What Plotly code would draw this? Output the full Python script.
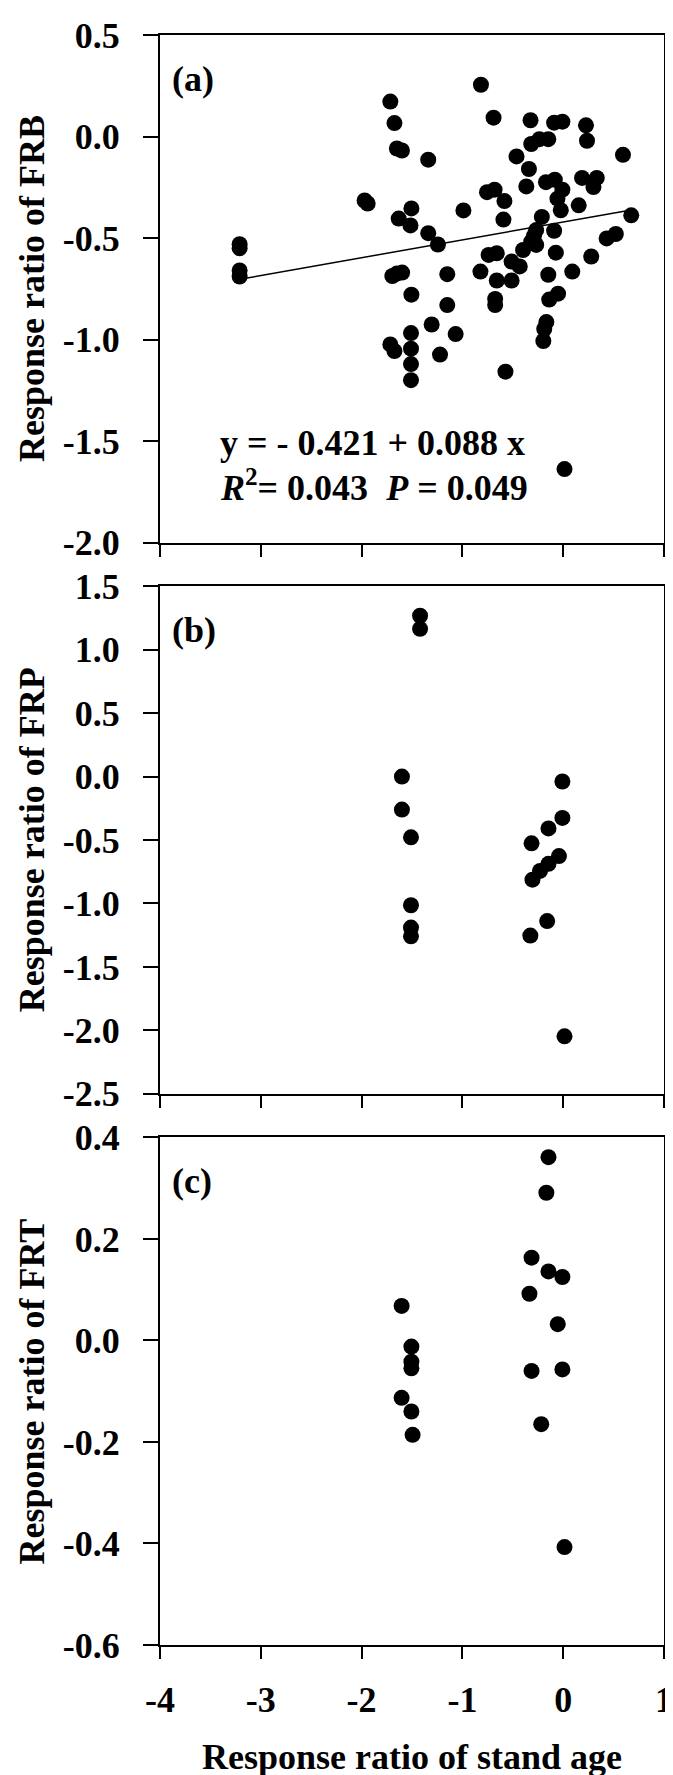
import plotly.graph_objects as go

# ---------------- data ----------------
frb_x = [-3.21, -3.21, -3.21, -3.21, -1.97, -1.94, -1.715, -1.674, -1.65, -1.60,
         -1.339, -1.506, -1.632, -1.515, -1.339, -1.243, -1.695, -1.65, -1.598, -1.15,
         -1.506, -1.15, -1.305, -1.067, -1.715, -1.674, -1.51, -1.51, -1.51, -1.51,
         -1.222, 0.013, -0.573, -0.816, -0.99, -0.691, -0.324, -0.090, -0.008, 0.226,
         0.236, 0.593, -0.317, -0.236, -0.148, -0.463, -0.340, -0.366, -0.171, -0.083,
         -0.008, -0.057, -0.024, 0.187, 0.333, 0.300, 0.154, 0.675, -0.756, -0.681,
         -0.583, -0.593, -0.212, -0.268, -0.29, -0.317, -0.268, -0.398, -0.512, -0.431,
         -0.090, -0.073, 0.431, 0.522, 0.278, 0.090, -0.148, -0.740, -0.659, -0.821,
         -0.659, -0.512, -0.675, -0.675, -0.139, -0.051, -0.167, -0.188, -0.197]
frb_y = [-0.53, -0.55, -0.66, -0.69, -0.315, -0.33, 0.172, 0.066, -0.059, -0.069,
         -0.114, -0.354, -0.404, -0.438, -0.476, -0.532, -0.687, -0.675, -0.670, -0.678,
         -0.779, -0.830, -0.926, -0.973, -1.024, -1.057, -0.968, -1.045, -1.121, -1.200,
         -1.074, -1.638, -1.158, 0.255, -0.364, 0.093, 0.080, 0.068, 0.073, 0.055,
         -0.021, -0.090, -0.037, -0.013, -0.013, -0.098, -0.160, -0.246, -0.225, -0.213,
         -0.262, -0.306, -0.363, -0.204, -0.204, -0.249, -0.339, -0.388, -0.274, -0.262,
         -0.318, -0.409, -0.396, -0.461, -0.49, -0.518, -0.534, -0.559, -0.616, -0.640,
         -0.464, -0.572, -0.502, -0.480, -0.591, -0.665, -0.681, -0.583, -0.575, -0.665,
         -0.709, -0.709, -0.800, -0.830, -0.803, -0.774, -0.914, -0.948, -1.007]

frp_x = [-1.42, -1.42, -1.60, -1.60, -1.51, -1.51, -1.51, -1.51,
         -0.008, -0.008, -0.146, -0.314, -0.042, -0.146, -0.23, -0.305, -0.159, -0.326, 0.013]
frp_y = [1.267, 1.164, 0.0, -0.26, -0.479, -1.014, -1.19, -1.259,
         -0.039, -0.326, -0.409, -0.526, -0.627, -0.688, -0.744, -0.813, -1.139, -1.253, -2.047]

frt_x = [-0.146, -0.167, -0.314, -0.146, -0.008, -0.335, -0.054, -0.314, -0.008, -0.218, 0.013,
         -1.603, -1.506, -1.506, -1.506, -1.603, -1.506, -1.494]
frt_y = [0.361, 0.291, 0.163, 0.136, 0.125, 0.092, 0.032, -0.060, -0.057, -0.165, -0.407,
         0.068, -0.012, -0.042, -0.055, -0.113, -0.140, -0.186]

# regression for panel (a): y = -0.421 + 0.088 x
fit_intercept = -0.421
fit_slope = 0.088
fit_x = [min(frb_x), max(frb_x)]
fit_y = [fit_intercept + fit_slope * v for v in fit_x]

x_ticks = [-4, -3, -2, -1, 0, 1]
x_ticktext = ["-4", "-3", "-2", "-1", "0", "1"]
a_ticks = [0.5, 0.0, -0.5, -1.0, -1.5, -2.0]
a_ticktext = ["0.5", "0.0", "-0.5", "-1.0", "-1.5", "-2.0"]
b_ticks = [1.5, 1.0, 0.5, 0.0, -0.5, -1.0, -1.5, -2.0, -2.5]
b_ticktext = ["1.5", "1.0", "0.5", "0.0", "-0.5", "-1.0", "-1.5", "-2.0", "-2.5"]
c_ticks = [0.4, 0.2, 0.0, -0.2, -0.4, -0.6]
c_ticktext = ["0.4", "0.2", "0.0", "-0.2", "-0.4", "-0.6"]

# ---------------- figure ----------------
W, H = 673, 1775
L, R, T, B = 152, 8, 13, 138
PH = H - T - B  # 1624
panel_h = 512
gap = 44

def dom(i):
    top = 1 - (i * (panel_h + gap)) / PH
    bot = top - panel_h / PH
    return [max(0, bot), min(1, top)]

FONT = "Liberation Serif"
FS = 36
tickfont = dict(family=FONT, size=FS, color="black", weight="bold")

fig = go.Figure()
mk = dict(color="black", size=16, line=dict(width=0))
fig.add_trace(go.Scatter(x=frb_x, y=frb_y, mode="markers", marker=mk, xaxis="x", yaxis="y", showlegend=False))
fig.add_trace(go.Scatter(x=fit_x, y=fit_y, mode="lines", line=dict(color="black", width=1.5),
                         xaxis="x", yaxis="y", showlegend=False))
fig.add_trace(go.Scatter(x=frp_x, y=frp_y, mode="markers", marker=mk, xaxis="x2", yaxis="y2", showlegend=False))
fig.add_trace(go.Scatter(x=frt_x, y=frt_y, mode="markers", marker=mk, xaxis="x3", yaxis="y3", showlegend=False))

def xax(anchor, labels):
    return dict(domain=[0, 1], anchor=anchor, range=[-4, 1], tickvals=x_ticks, ticktext=x_ticktext,
                showticklabels=labels, ticks="outside", ticklen=12, tickwidth=2, tickcolor="black",
                showline=True, linewidth=2, linecolor="black", mirror=True, showgrid=False,
                zeroline=False, tickfont=tickfont, ticklabelstandoff=10)

def yax(anchor, domain, rng, tv, tt):
    return dict(domain=domain, anchor=anchor, range=rng, tickvals=tv, ticktext=tt,
                ticks="outside", ticklen=15, tickwidth=2, tickcolor="black",
                showline=True, linewidth=2, linecolor="black", mirror=True, showgrid=False,
                zeroline=False, tickfont=tickfont, ticklabelstandoff=16)

da, db, dc = dom(0), dom(1), dom(2)
fig.update_layout(
    width=W, height=H, margin=dict(l=L, r=R, t=T, b=B),
    paper_bgcolor="white", plot_bgcolor="white",
    xaxis=xax("y", False),
    yaxis=yax("x", da, [-2.0, 0.5], a_ticks, a_ticktext),
    xaxis2=xax("y2", False),
    yaxis2=yax("x2", db, [-2.5, 1.5], b_ticks, b_ticktext),
    xaxis3=xax("y3", True),
    yaxis3=yax("x3", dc, [-0.6, 0.4], c_ticks, c_ticktext),
)

PW = W - L - R
ann_font = dict(family=FONT, size=FS, color="black", weight="bold")
annotations = []
titles = ["Response ratio of FRB", "Response ratio of FRP", "Response ratio of FRT"]
labels = ["(a)", "(b)", "(c)"]
for d, t, lab in zip([da, db, dc], titles, labels):
    annotations.append(dict(text=t, xref="paper", yref="paper", x=(22 - L) / PW, y=(d[0] + d[1]) / 2,
                            xanchor="center", yanchor="middle", textangle=-90, showarrow=False, font=ann_font))
    annotations.append(dict(text=lab, xref="paper", yref="paper", x=(162 - L) / PW, y=d[1] - 44 / PH,
                            xanchor="left", yanchor="middle", showarrow=False, font=ann_font))
annotations.append(dict(text="Response ratio of stand age", xref="paper", yref="paper", x=0.5,
                        y=-(1750 - (H - B)) / PH, xanchor="center", yanchor="middle",
                        showarrow=False, font=ann_font))
annotations.append(dict(text="y = - 0.421 + 0.088 x", xref="x", yref="y", x=-3.42, y=-1.51,
                        xanchor="left", yanchor="middle", showarrow=False, font=ann_font))
annotations.append(dict(text="<i>R</i><sup>2</sup>= 0.043\u00a0\u00a0<i>P</i> = 0.049", xref="x", yref="y",
                        x=-3.42, y=-1.72, xanchor="left", yanchor="middle", showarrow=False, font=ann_font))
fig.update_layout(annotations=annotations)

fig.write_html("out.html")
